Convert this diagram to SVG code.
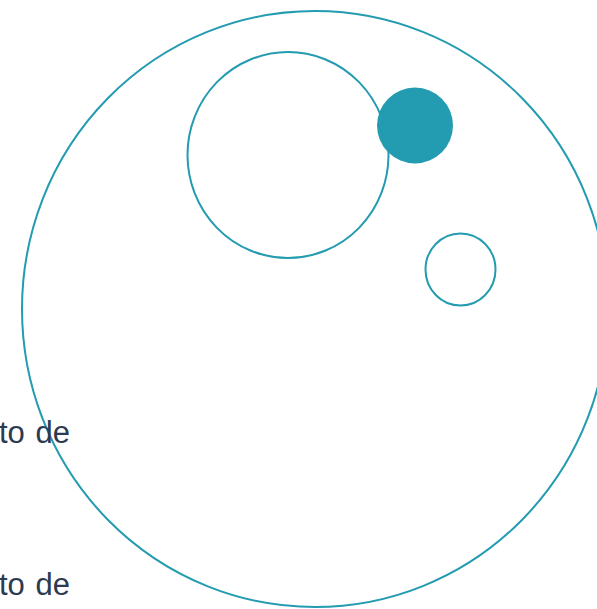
<svg xmlns="http://www.w3.org/2000/svg" width="597" height="609" viewBox="0 0 597 609">
<style>
.ring{fill:none;stroke:#239bb0;stroke-width:2}
.dot{fill:#239bb0}
.lbl{font-family:"Liberation Sans",Arial,sans-serif;font-size:31px;fill:#2e3a4f;word-spacing:2px}
</style>
<rect width="597" height="609" fill="#ffffff"/>
<g id="big-circle"><ellipse class="ring" cx="315" cy="309" rx="293" ry="298"/></g>
<g id="medium-circle"><ellipse class="ring" cx="288" cy="155" rx="100.5" ry="103"/></g>
<g id="filled-circle"><circle class="dot" cx="415" cy="125.5" r="38"/></g>
<g id="small-circle"><ellipse class="ring" cx="460.5" cy="269.5" rx="35" ry="36"/></g>
<g id="label-1"><text class="lbl" x="-1" y="443">to de</text></g>
<g id="label-2"><text class="lbl" x="-1" y="595">to de</text></g>
</svg>
